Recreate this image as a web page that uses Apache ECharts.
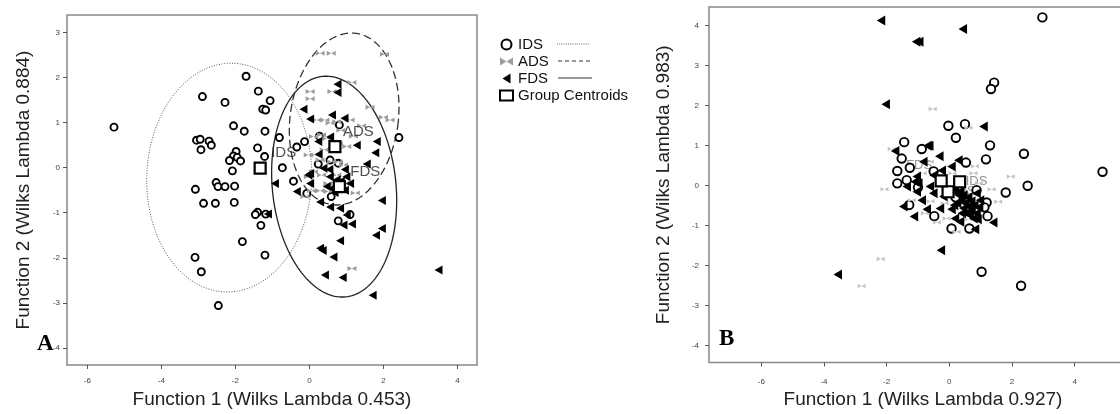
<!DOCTYPE html>
<html><head><meta charset="utf-8">
<script src="https://cdn.jsdelivr.net/npm/echarts@6/dist/echarts.min.js"></script>
<style>html,body{margin:0;padding:0;background:#fff}#c{width:1120px;height:414px}</style>
</head><body><div id="c"></div><script>
const groupNames = ['IDS', 'ADS', 'FDS'];
const centroidName = 'Group Centroids';
const xTitleA = 'Function 1 (Wilks Lambda 0.453)';
const yTitleA = 'Function 2 (Wilks Lambda 0.884)';
const xTitleB = 'Function 1 (Wilks Lambda 0.927)';
const yTitleB = 'Function 2 (Wilks Lambda 0.983)';
const xTicksA = [-6, -4, -2, 0, 2, 4];
const yTicksA = [3, 2, 1, 0, -1, -2, -3, -4];
const xTicksB = [-6, -4, -2, 0, 2, 4];
const yTicksB = [4, 3, 2, 1, 0, -1, -2, -3, -4];

// Panel A
const idsA = [[-5.28,0.90],[-1.71,2.03],[-1.38,1.70],[-2.89,1.58],[-2.28,1.45],[-1.06,1.49],[-1.26,1.30],[-1.18,1.28],[-2.05,0.93],[-1.76,0.81],[-1.20,0.81],[-3.05,0.61],[-2.95,0.63],[-2.71,0.59],[-2.65,0.50],[-2.93,0.40],[-1.40,0.44],[-0.81,0.67],[-1.98,0.36],[-2.05,0.26],[-2.16,0.16],[-1.95,0.23],[-1.86,0.15],[-2.08,-0.07],[-1.21,0.25],[-0.73,0.00],[-0.34,0.46],[-0.13,0.58],[-0.43,-0.30],[-3.08,-0.48],[-2.52,-0.33],[-2.47,-0.42],[-2.28,-0.42],[-2.02,-0.41],[-2.86,-0.79],[-2.54,-0.79],[-2.03,-0.77],[-1.40,-0.99],[-1.46,-1.04],[-1.18,-1.03],[-1.31,-1.28],[-1.81,-1.64],[-1.20,-1.94],[-3.09,-1.99],[-2.92,-2.31],[-2.46,-3.06],[2.42,0.67],[0.81,0.95],[0.27,0.70],[-0.07,-0.57],[0.24,0.08],[0.56,0.17],[0.78,0.10],[0.59,-0.64],[1.10,-1.04],[0.78,-1.18]];
const adsA = [[0.29,2.54],[0.59,2.54],[2.03,2.52],[1.15,1.89],[0.02,1.69],[0.02,1.53],[0.61,1.69],[1.64,1.34],[2.00,1.12],[2.18,1.06],[0.20,1.06],[0.42,1.06],[0.56,0.99],[0.74,1.02],[1.10,1.06],[0.11,0.69],[0.33,0.73],[0.47,0.65],[0.78,0.54],[1.01,0.47],[-0.03,0.28],[0.15,0.28],[0.29,0.17],[0.60,0.13],[0.78,0.13],[0.92,0.06],[0.11,-0.09],[0.33,-0.16],[0.74,-0.16],[-0.03,-0.20],[0.06,-0.51],[0.29,-0.51],[0.51,-0.53],[1.24,-0.56],[-0.12,-0.64],[1.15,-2.24],[1.41,0.93],[1.19,0.70],[0.85,0.83],[0.40,0.40],[0.50,-0.35],[0.95,-0.35]];
const fdsA = [[0.76,1.85],[0.76,1.67],[-0.16,1.30],[0.02,1.08],[0.61,1.17],[0.95,1.10],[0.24,0.58],[0.56,0.68],[1.28,0.50],[1.82,0.58],[1.78,0.33],[1.55,0.08],[-0.03,-0.16],[-0.34,-0.53],[-0.93,-0.35],[0.02,-0.35],[0.29,-0.76],[0.56,-0.87],[0.83,-0.90],[1.96,-0.73],[1.01,-1.05],[1.15,-1.25],[0.92,-1.27],[1.96,-1.35],[1.80,-1.50],[0.83,-1.62],[0.29,-1.79],[0.36,-1.84],[0.65,-1.98],[0.42,-2.38],[0.90,-2.44],[1.71,-2.83],[3.49,-2.27],[0.38,-0.01],[0.54,-0.04],[0.96,-0.04],[0.47,-0.42],[0.60,-0.46],[1.10,-0.35],[0.96,-0.50],[0.74,-0.27],[0.02,-0.13],[-1.12,-1.03],[0.25,0.30],[0.62,0.45],[0.85,-0.30],[1.00,-0.20],[0.55,-0.20],[0.68,-0.55]];
const centroidsA = [[-1.33,-0.01],[0.69,0.47],[0.81,-0.42]];
// ellipse: centre x, centre y, horizontal semi-axis, vertical semi-axis, tilt (deg)
const ellipsesA = [[-2.165,-0.22,2.23,2.54,2],[0.94,1.08,1.46,1.92,8],[0.67,-0.42,1.67,2.46,-6]];

// Panel B
const idsB = [[2.97,4.20],[1.43,2.57],[1.33,2.41],[-0.03,1.49],[0.50,1.53],[0.21,1.19],[1.30,1.00],[1.17,0.65],[2.38,0.79],[2.50,-0.01],[4.89,0.34],[1.80,-0.18],[-1.44,1.08],[-1.52,0.67],[-1.66,0.36],[-1.66,0.05],[-1.26,0.44],[-1.36,0.13],[-0.88,0.91],[-1.28,-0.49],[-0.48,-0.77],[0.07,-1.08],[0.64,-1.08],[1.22,-0.77],[1.19,-0.43],[1.12,-0.55],[0.53,0.57],[1.03,-2.16],[2.29,-2.51],[0.87,-0.12],[-1.00,-0.05],[-0.50,0.35],[0.20,-0.30]];
const adsB = [[-0.53,1.91],[0.61,1.44],[-1.84,0.91],[-2.07,-0.10],[-2.19,-1.84],[-2.80,-2.52],[1.96,0.22],[1.56,-0.41],[1.35,-0.10],[0.82,0.48],[-0.62,0.59],[-1.20,-0.37],[-0.78,-0.70],[-0.40,-0.93],[-0.09,-0.83],[0.23,-1.16],[0.77,0.30],[-0.30,0.09],[0.40,-0.10],[-0.85,0.30],[0.10,0.30],[0.60,-0.85],[-0.60,-0.40],[0.95,0.05],[-0.15,-0.45]];
const fdsB = [[-2.18,4.12],[0.43,3.91],[-1.06,3.59],[-0.96,3.59],[-2.03,2.03],[1.09,1.47],[-0.70,0.99],[-0.64,0.99],[-1.73,0.86],[-0.83,0.59],[-0.32,0.73],[0.29,0.63],[0.07,0.47],[-0.24,0.37],[-1.04,0.22],[-1.10,0.09],[-0.99,0.05],[-1.36,-0.03],[-1.04,-0.16],[-0.88,-0.37],[-1.47,-0.53],[-1.13,-0.78],[-0.72,-0.60],[-0.30,-0.58],[0.07,-0.60],[0.18,-0.83],[0.34,-0.91],[0.82,-1.10],[1.40,-0.93],[0.87,-0.70],[-0.27,-1.62],[-3.56,-2.23],[0.29,-0.24],[0.39,-0.37],[0.50,-0.45],[0.61,-0.53],[0.71,-0.62],[0.45,-0.57],[0.77,-0.83],[0.87,-0.20],[0.98,-0.37],[-0.51,-0.20],[-0.62,-0.03],[-0.19,-0.28],[0.18,-0.12],[0.55,-0.70],[0.25,-0.45],[-0.50,0.25],[0.95,-0.55],[0.35,-0.15],[0.45,-0.25],[0.60,-0.30],[0.70,-0.40],[0.80,-0.50],[0.40,-0.70],[0.65,-0.75],[0.15,-0.50],[0.90,-0.85]];
const centroidsB = [[0.33,0.09],[-0.04,-0.16],[-0.26,0.11]];

const BOWTIE = 'path://M0,0L5,3L0,6ZM10,0L5,3L10,6Z';
const TRI_LEFT = 'path://M0,5L8,0L8,10Z';
const FONT = '"Liberation Sans", Arial, sans-serif';

const ellipseStyles = [
  {stroke:'#555', lineWidth:1, lineDash:[1,1.6]},
  {stroke:'#333', lineWidth:1.3, lineDash:[8,4]},
  {stroke:'#222', lineWidth:1.3, lineDash:null}
];

function ellipseItem(params, api) {
  const c = api.coord([api.value(0), api.value(1)]);
  const s = api.size([api.value(2), api.value(3)]);
  const a = api.value(4) * Math.PI / 180;
  const pts = [];
  for (let i = 0; i <= 180; i++) {
    const t = i / 180 * Math.PI * 2;
    const ex = s[0] * Math.cos(t), ey = s[1] * Math.sin(t);
    pts.push([c[0] + ex * Math.cos(a) + ey * Math.sin(a), c[1] - (-ex * Math.sin(a) + ey * Math.cos(a))]);
  }
  return {type:'polyline', shape:{points:pts}, style:Object.assign({fill:null}, ellipseStyles[params.dataIndex])};
}

function xAxis(grid, min, max, ticks, name, gap, margin) {
  return {gridIndex:grid, type:'value', min, max, name, nameLocation:'middle', nameGap:gap,
    nameTextStyle:{fontSize:19, color:'#222', fontFamily:FONT},
    axisLine:{show:false, onZero:false}, splitLine:{show:false},
    axisTick:{show:true, length:4, lineStyle:{color:'#555'}, customValues:ticks},
    axisLabel:{fontSize:8, color:'#444', margin, customValues:ticks, fontFamily:FONT}};
}
function yAxis(grid, min, max, ticks, name, gap, margin) {
  return {gridIndex:grid, type:'value', min, max, name, nameLocation:'middle', nameGap:gap, nameRotate:90,
    nameTextStyle:{fontSize:19, color:'#222', fontFamily:FONT},
    axisLine:{show:false, onZero:false}, splitLine:{show:false},
    axisTick:{show:true, length:4, lineStyle:{color:'#555'}, customValues:ticks},
    axisLabel:{fontSize:8, color:'#444', margin, customValues:ticks, fontFamily:FONT}};
}

function panelSeries(k, ids, ads, fds, cents, sizes, labelCfg) {
  return [
    {name:groupNames[0], type:'scatter', xAxisIndex:k, yAxisIndex:k, data:ids, symbol:'circle', symbolSize:sizes.circle,
      itemStyle:{color:'#fff', borderColor:'#000', borderWidth:1.9, opacity:1}, z:2},
    {name:groupNames[1], type:'scatter', xAxisIndex:k, yAxisIndex:k, data:ads, symbol:BOWTIE, symbolSize:sizes.bow,
      itemStyle:{color:k ? '#c4c4c4' : '#9c9c9c', opacity:1}, z:2},
    {name:groupNames[2], type:'scatter', xAxisIndex:k, yAxisIndex:k, data:fds, symbol:TRI_LEFT, symbolSize:sizes.tri,
      itemStyle:{color:'#000', opacity:1}, z:2},
    {name:'labels' + k, type:'scatter', xAxisIndex:k, yAxisIndex:k, symbolSize:0, silent:true, z:labelCfg.z,
      data:cents.map((p, i) => ({name:groupNames[i], value:p,
        label:{show:true, formatter:'{b}', position:labelCfg.pos[i], offset:labelCfg.off[i], distance:5,
          fontSize:labelCfg.size, color:labelCfg.color, fontFamily:FONT}}))},
    {name:centroidName, type:'scatter', xAxisIndex:k, yAxisIndex:k, data:cents, symbol:'rect', symbolSize:11,
      itemStyle:{color:'#fff', borderColor:'#000', borderWidth:2.2, opacity:1}, z:4}
  ];
}

const chart = echarts.init(document.getElementById('c'), null, {renderer:'canvas'});
const option = {
  backgroundColor:'#fff',
  animation:false,
  textStyle:{fontFamily:FONT},
  grid:[
    {left:67, top:15, width:410, height:350, show:true, borderColor:'#888', borderWidth:1.5, backgroundColor:'#fff',
      outerBoundsMode:'none', containLabel:false},
    {left:709, top:7, width:428, height:355.5, show:true, borderColor:'#888', borderWidth:1.5, backgroundColor:'#fff',
      outerBoundsMode:'none', containLabel:false}
  ],
  xAxis:[xAxis(0, -6.55, 4.53, xTicksA, xTitleA, 23, 12), xAxis(1, -7.67, 5.99, xTicksB, xTitleB, 27, 15)],
  yAxis:[yAxis(0, -4.38, 3.39, yTicksA, yTitleA, 34, 7), yAxis(1, -4.43, 4.46, yTicksB, yTitleB, 36, 10)],
  legend:{show:true, orient:'vertical', left:499, top:37, itemGap:2, itemWidth:13, itemHeight:10, padding:0,
    selectedMode:false, data:[groupNames[0], groupNames[1], groupNames[2], centroidName],
    textStyle:{fontSize:15, color:'#111', fontFamily:FONT}},
  graphic:[
    {type:'line', shape:{x1:557, y1:44, x2:590, y2:44}, style:{stroke:'#666', lineWidth:1, lineDash:[1,1.2]}},
    {type:'line', shape:{x1:558, y1:61, x2:592, y2:61}, style:{stroke:'#333', lineWidth:1, lineDash:[4,3]}},
    {type:'line', shape:{x1:558, y1:78, x2:592, y2:78}, style:{stroke:'#333', lineWidth:1}},
    {type:'text', left:37, top:333, z:100, style:{text:'A', font:'bold 23px "Liberation Serif", serif', fill:'#000'}},
    {type:'text', left:719, top:328, z:100, style:{text:'B', font:'bold 23px "Liberation Serif", serif', fill:'#000'}}
  ],
  series:[
    {type:'custom', name:'ellipses', xAxisIndex:0, yAxisIndex:0, data:ellipsesA, renderItem:ellipseItem, silent:true, z:1,
      encode:{x:0, y:1}},
    ...panelSeries(0, idsA, adsA, fdsA, centroidsA, {circle:7, bow:[9,5], tri:[8,9]},
      {z:10, size:15, color:'#222', pos:['right','right','right'], off:[[6,-15],[3,-15],[6,-15]]}),
    ...panelSeries(1, idsB, adsB, fdsB, centroidsB, {circle:8.5, bow:[8,4.5], tri:[8.5,10]},
      {z:1, size:13, color:'#777', pos:['right','right','left'], off:[[1,0],[-4,0],[-4,-16]]})
  ]
};
chart.setOption(option);
</script></body></html>
